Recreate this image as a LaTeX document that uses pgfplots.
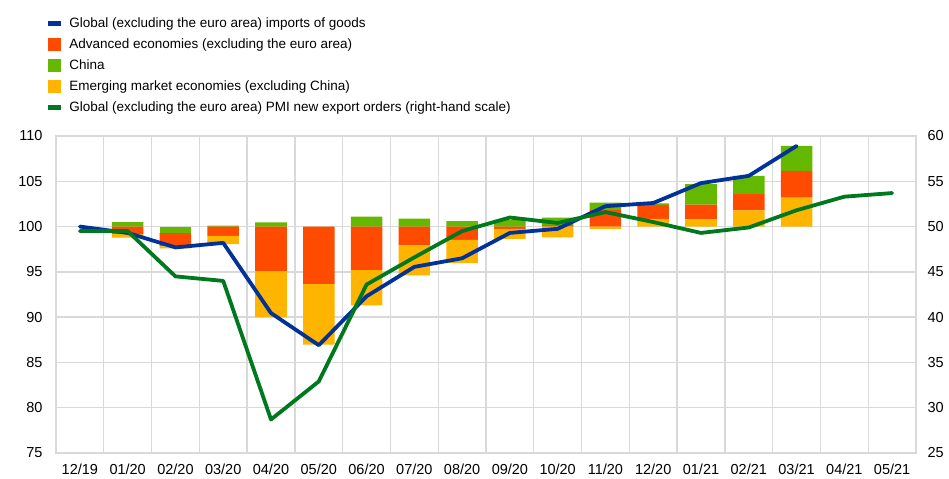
\documentclass[border=0pt]{standalone}
\usepackage{fontspec}
\setmainfont{Liberation Sans}
\usepackage{pgfplots}
\usepackage{pgfplotstable}
\pgfplotsset{compat=1.18}
\definecolor{ecbblue}{RGB}{0,50,153}
\definecolor{ecborange}{RGB}{255,75,0}
\definecolor{ecbgreen}{RGB}{101,184,0}
\definecolor{ecbyellow}{RGB}{255,180,0}
\definecolor{ecbdkgreen}{RGB}{0,120,30}
\definecolor{gridgray}{RGB}{217,217,217}

% contributions stacked: base (invisible), negative parts (yellow, orange, green), positive parts (yellow, orange, green)
\pgfplotstableread{
x base yn on gn yp op gp
0 100.00 0 0 0 0 0 0
1 98.79 0.37 0.84 0 0 0 0.50
2 97.58 0.22 1.47 0.73 0 0 0
3 98.06 0.91 1.03 0 0 0 0.10
4 90.01 5.03 4.96 0 0 0 0.45
5 86.96 6.69 6.35 0 0 0 0
6 91.30 3.90 4.80 0 0 0 1.10
7 94.61 3.30 2.09 0 0 0 0.88
8 95.96 2.57 1.47 0 0 0 0.59
9 98.65 1.10 0.25 0 0 0 0.75
10 98.80 1.20 0 0 0 0.15 0.85
11 99.74 0.26 0 0 0 1.84 0.80
12 100.00 0 0 0 0.85 1.55 0.15
13 100.00 0 0 0 0.80 1.62 2.28
14 100.00 0 0 0 1.80 1.77 2.02
15 100.00 0 0 0 3.20 2.94 2.76
16 100.00 0 0 0 0 0 0
17 100.00 0 0 0 0 0 0
}\bars

\pgfplotstableread{
x imp
0 100.0
1 99.3
2 97.7
3 98.2
4 90.45
5 86.9
6 92.3
7 95.55
8 96.5
9 99.3
10 99.75
11 102.25
12 102.6
13 104.8
14 105.6
15 108.9
}\imports

\pgfplotstableread{
x pmi
0 49.5
1 49.5
2 44.5
3 44.0
4 28.7
5 32.9
6 43.6
7 46.6
8 49.5
9 51.0
10 50.4
11 51.6
12 50.5
13 49.3
14 49.9
15 51.8
16 53.3
17 53.7
}\pmi

\begin{document}
\begin{tikzpicture}
\pgfplotsset{
  common/.style={width=860bp, height=317bp, scale only axis,
    xmin=-0.5, xmax=17.5, at={(0,0)}, anchor=south west},
  lbl/.style={font=\fontsize{14.5bp}{16bp}\selectfont, /pgf/number format/assume math mode=true},
}
\begin{axis}[common,
  ymin=75, ymax=110,
  ybar stacked, bar width=0.66,
  xtick={0,...,17},
  xticklabels={12/19,01/20,02/20,03/20,04/20,05/20,06/20,07/20,08/20,09/20,10/20,11/20,12/20,01/21,02/21,03/21,04/21,05/21},
  minor xtick={-0.5,0.5,...,17.5},
  xminorgrids, ymajorgrids, xmajorgrids=false,
  ytick={75,80,...,110},
  major tick length=0, minor tick length=0,
  grid style={gridgray, line width=1.3bp},
  minor grid style={gridgray, line width=1.3bp},
  axis line style={gridgray, line width=1.3bp},
  tick label style={lbl},
  yticklabel style={xshift=-10bp},
  xticklabel style={yshift=-7bp},
  legend style={at={(-0.0128,1.386)}, anchor=north west, draw=none, fill=none,
    font=\fontsize{13.5bp}{16bp}\selectfont, row sep=5.7bp},
  legend cell align=left,
]
\addlegendimage{legend image code/.code={\path[draw=none,fill=none] (0bp,0bp) -- (19bp,0bp);\fill[ecbblue] (0bp,-2.2bp) rectangle (12bp,2.2bp);}}
\addlegendentry{Global (excluding the euro area) imports of goods}
\addlegendimage{legend image code/.code={\path[draw=none,fill=none] (0bp,0bp) -- (19bp,0bp);\fill[ecborange] (0bp,-5.8bp) rectangle (12bp,5.8bp);}}
\addlegendentry{Advanced economies (excluding the euro area)}
\addlegendimage{legend image code/.code={\path[draw=none,fill=none] (0bp,0bp) -- (19bp,0bp);\fill[ecbgreen] (0bp,-5.8bp) rectangle (12bp,5.8bp);}}
\addlegendentry{China}
\addlegendimage{legend image code/.code={\path[draw=none,fill=none] (0bp,0bp) -- (19bp,0bp);\fill[ecbyellow] (0bp,-5.8bp) rectangle (12bp,5.8bp);}}
\addlegendentry{Emerging market economies (excluding China)}
\addlegendimage{legend image code/.code={\path[draw=none,fill=none] (0bp,0bp) -- (19bp,0bp);\fill[ecbdkgreen] (0bp,-2.2bp) rectangle (12bp,2.2bp);}}
\addlegendentry{Global (excluding the euro area) PMI new export orders (right-hand scale)}

\addplot[draw=none, fill=none, forget plot] table[x=x, y=base]{\bars};
\addplot[draw=none, fill=ecbyellow, forget plot] table[x=x, y=yn]{\bars};
\addplot[draw=none, fill=ecborange, forget plot] table[x=x, y=on]{\bars};
\addplot[draw=none, fill=ecbgreen, forget plot] table[x=x, y=gn]{\bars};
\addplot[draw=none, fill=ecbyellow, forget plot] table[x=x, y=yp]{\bars};
\addplot[draw=none, fill=ecborange, forget plot] table[x=x, y=op]{\bars};
\addplot[draw=none, fill=ecbgreen, forget plot] table[x=x, y=gp]{\bars};
\end{axis}

\begin{axis}[common, ymin=75, ymax=110, hide axis]
\addplot[ecbblue, line width=3.8bp, line join=round, line cap=round] table[x=x, y=imp]{\imports};
\end{axis}

\begin{axis}[common, ymin=25, ymax=60,
  axis x line=none, axis y line*=right,
  ytick={25,30,...,60},
  major tick length=0,
  axis line style={draw=none},
  tick label style={lbl},
  yticklabel style={xshift=8bp},
]
\addplot[ecbdkgreen, line width=3.8bp, line join=round, line cap=round] table[x=x, y=pmi]{\pmi};
\end{axis}

\pgfresetboundingbox
\path (-56bp,-26bp) rectangle (893bp,453bp);
\end{tikzpicture}
\end{document}
